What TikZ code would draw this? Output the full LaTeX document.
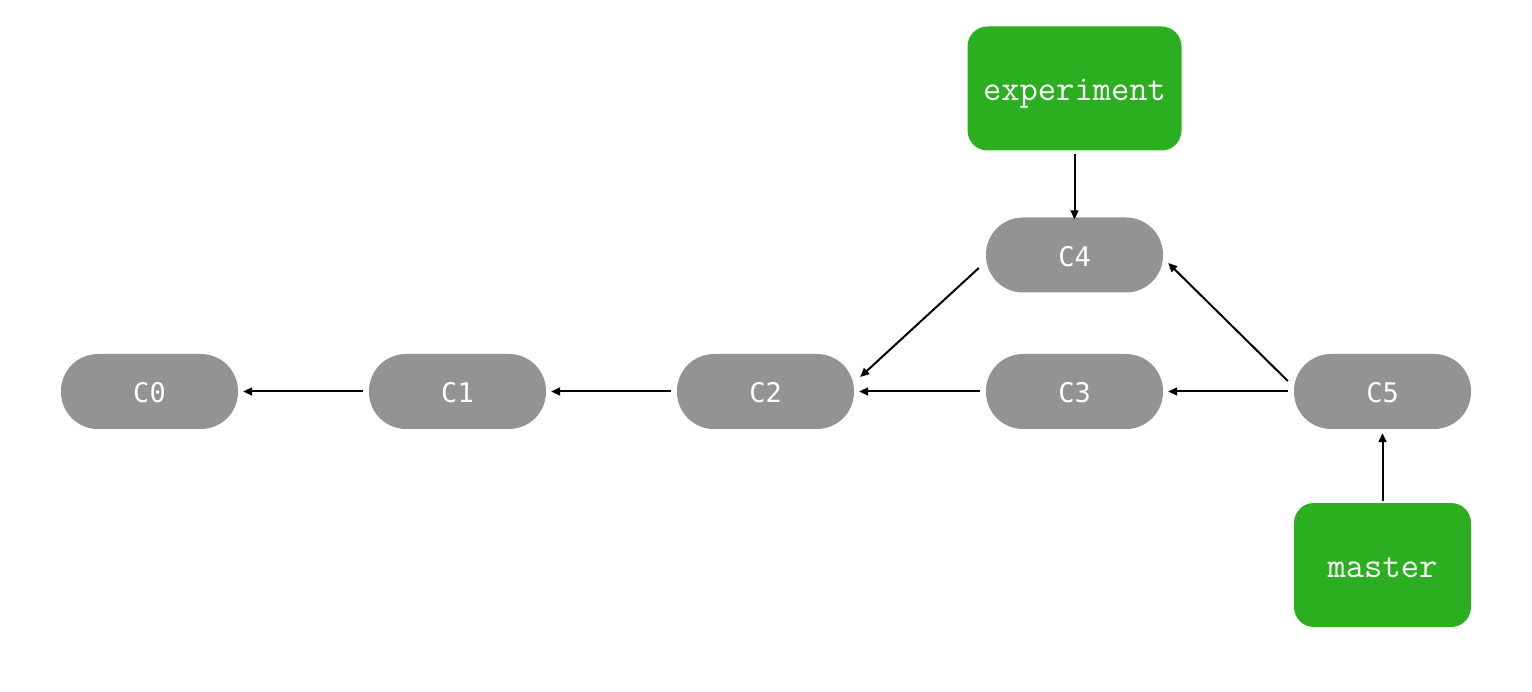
\documentclass[tikz,border=0pt]{standalone}
\usepackage{fontspec}
\usetikzlibrary{arrows.meta}
\newfontfamily\commitfont{DejaVu Sans Mono}
\definecolor{commitgray}{HTML}{939393}
\definecolor{branchgreen}{HTML}{2BAE20}
\tikzset{
  commit/.style={fill=commitgray, rounded corners=37pt, minimum width=177pt, minimum height=75pt, inner sep=0pt, text=white, font=\commitfont\fontsize{27}{30}\selectfont, text height=23pt, text depth=0pt},
  branch/.style={fill=branchgreen, rounded corners=20pt, minimum height=124pt, inner sep=0pt, text=white, font=\ttfamily\fontsize{35.5}{38}\selectfont, text height=24pt, text depth=0pt},
  link/.style={line width=2pt, -{Triangle[length=9pt,width=8pt]}}
}
\begin{document}
\begin{tikzpicture}[x=1pt,y=-1pt]
\useasboundingbox (0,0) rectangle (1532,692);
\node[commit] (C0) at (149.5,391.5) {C0};
\node[commit] (C1) at (457.5,391.5) {C1};
\node[commit] (C2) at (765.5,391.5) {C2};
\node[commit] (C3) at (1074.5,391.5) {C3};
\node[commit] (C4) at (1074.5,255) {C4};
\node[commit] (C5) at (1382.5,391.5) {C5};
\node[branch, minimum width=214pt] (exp) at (1074.5,88.5) {experiment};
\node[branch, minimum width=177pt] (mas) at (1382.5,565) {master};
\draw[link, shorten <=6pt, shorten >=5pt] (C1.west) -- (C0.east);
\draw[link, shorten <=6pt, shorten >=5pt] (C2.west) -- (C1.east);
\draw[link, shorten <=6pt, shorten >=5pt] (C3.west) -- (C2.east);
\draw[link, shorten <=6pt, shorten >=5pt] (C5.west) -- (C3.east);
\draw[link] ([shift={(-7,13)}]C4.west) -- ([shift={(6,-14.5)}]C2.east);
\draw[link] ([shift={(-6,-10.5)}]C5.west) -- ([shift={(5,8)}]C4.east);
\draw[link, shorten <=3pt, shorten >=-2pt] (exp.south) -- (C4.north);
\draw[link, shorten <=2pt, shorten >=4pt] (mas.north) -- (C5.south);
\end{tikzpicture}
\end{document}
